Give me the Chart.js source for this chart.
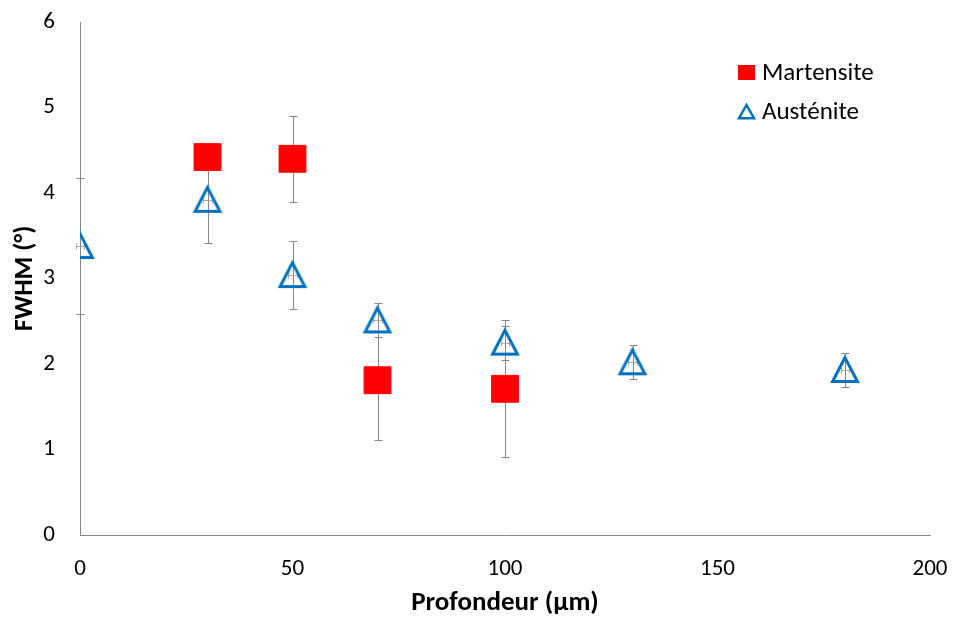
<!DOCTYPE html>
<html>
<head>
<meta charset="utf-8">
<script src="https://cdn.jsdelivr.net/npm/chart.js@4/dist/chart.umd.min.js"></script>
<style>
html,body{margin:0;padding:0;background:#fff;}
#wrap{width:954px;height:619px;}
</style>
</head>
<body>
<div id="wrap"><canvas id="c" width="954" height="619"></canvas></div>
<script>
// ---- Data ----
const martDepth = [30, 50, 70, 100];
const martFwhm  = [4.42, 4.40, 1.81, 1.71];
const martErr   = [0.1, 0.5, 0.7, 0.8];

const austDepth = [0, 30, 50, 70, 100, 130, 180];
const austFwhm  = [3.38, 3.92, 3.04, 2.51, 2.25, 2.02, 1.93];
const austErr   = [0.8, 0.5, 0.4, 0.2, 0.2, 0.2, 0.2];
const austXErr  = [1, 1, 1, 1, 1, 1, 1];

const xTicks = [0, 50, 100, 150, 200];
const yTicks = [0, 1, 2, 3, 4, 5, 6];

const FONT = "Carlito, Lato, 'Open Sans', sans-serif";

const martPts = martDepth.map((x, i) => ({x: x, y: martFwhm[i], e: martErr[i], ex: 0}));
const austPts = austDepth.map((x, i) => ({x: x, y: austFwhm[i], e: austErr[i], ex: austXErr[i]}));

function makeTriangle(w, h, lw, color) {
  const c = document.createElement('canvas');
  c.width = w + 2 * lw; c.height = h + 2 * lw;
  const g = c.getContext('2d');
  g.strokeStyle = color; g.lineWidth = lw; g.lineJoin = 'miter';
  const ox = lw, oy = lw;
  g.beginPath();
  g.moveTo(ox + w / 2, oy + lw * 0.2);
  g.lineTo(ox + w - lw * 0.2, oy + h - lw * 0.5);
  g.lineTo(ox + lw * 0.2, oy + h - lw * 0.5);
  g.closePath();
  g.stroke();
  return c;
}
const triMarker = makeTriangle(26, 26, 3, '#0070C0');
const triLegend = makeTriangle(16, 15, 2.5, '#0070C0');

const errorBars = {
  id: 'errorBars',
  beforeDatasetsDraw(chart) {
    const ctx = chart.ctx;
    const xs = chart.scales.x, ys = chart.scales.y;
    ctx.save();
    chart.data.datasets.forEach(ds => {
      ds.data.forEach(p => {
        const px = Math.round(xs.getPixelForValue(p.x)) + 0.5;
        const py = ys.getPixelForValue(p.y);
        if (p.e) {
          const top = Math.round(ys.getPixelForValue(p.y + p.e)) + 0.5;
          const bot = Math.round(ys.getPixelForValue(p.y - p.e)) + 0.5;
          ctx.strokeStyle = '#858585';
          ctx.lineWidth = 1;
          ctx.beginPath();
          ctx.moveTo(px, top); ctx.lineTo(px, bot);
          ctx.moveTo(px - 4, top); ctx.lineTo(px + 4, top);
          ctx.moveTo(px - 4, bot); ctx.lineTo(px + 4, bot);
          ctx.stroke();
        }
        if (p.ex) {
          const l = Math.round(xs.getPixelForValue(p.x - p.ex)) + 0.5;
          const r = Math.round(xs.getPixelForValue(p.x + p.ex)) + 0.5;
          const yy = Math.round(py) + 0.5;
          ctx.strokeStyle = '#a8a8a8';
          ctx.lineWidth = 1;
          ctx.beginPath();
          ctx.moveTo(l, yy); ctx.lineTo(r, yy);
          ctx.moveTo(l, yy - 3); ctx.lineTo(l, yy + 3);
          ctx.moveTo(r, yy - 3); ctx.lineTo(r, yy + 3);
          ctx.stroke();
        }
      });
    });
    ctx.restore();
  }
};

const customLegend = {
  id: 'customLegend',
  afterDraw(chart) {
    const ctx = chart.ctx;
    ctx.save();
    const items = [
      {y: 72.5, ds: chart.data.datasets[0]},
      {y: 112, ds: chart.data.datasets[1]}
    ];
    items.forEach(it => {
      const cx = 746.5;
      if (it.ds.pointStyle === 'rect') {
        ctx.fillStyle = it.ds.backgroundColor;
        ctx.fillRect(cx - 8.5, it.y - 7.5, 17, 15);
      } else {
        ctx.drawImage(triLegend, cx - triLegend.width / 2, it.y - triLegend.height / 2);
      }
      ctx.fillStyle = '#000';
      ctx.font = '25px ' + FONT;
      ctx.textBaseline = 'middle';
      ctx.textAlign = 'left';
      ctx.fillText(it.ds.label, 762, it.y + 1);
    });
    ctx.restore();
  }
};

new Chart(document.getElementById('c'), {
  type: 'scatter',
  data: {
    datasets: [
      {
        label: 'Martensite',
        data: martPts,
        pointStyle: 'rect',
        pointRadius: 19,
        pointHoverRadius: 19,
        backgroundColor: '#FF0000',
        borderColor: '#FF0000',
        borderWidth: 1
      },
      {
        label: 'Austénite',
        data: austPts,
        pointStyle: triMarker,
        pointRadius: 16,
        pointHoverRadius: 16,
        backgroundColor: 'rgba(0,0,0,0)',
        borderColor: '#0070C0',
        borderWidth: 3
      }
    ]
  },
  options: {
    responsive: false,
    animation: false,
    devicePixelRatio: 1,
    layout: {padding: {left: 0, right: 24, top: 22, bottom: 0}},
    plugins: {legend: {display: false}, tooltip: {enabled: false}},
    scales: {
      x: {
        type: 'linear',
        min: 0, max: 200,
        afterBuildTicks(s) { s.ticks = xTicks.map(v => ({value: v})); },
        afterFit(s) { s.height = 84; s.paddingLeft = 0; s.paddingRight = 0; },
        grid: {display: false, drawTicks: false},
        border: {display: true, color: '#868686', width: 1},
        ticks: {padding: 20, color: '#000', font: {family: FONT, size: 23}},
        title: {display: true, text: 'Profondeur (µm)', color: '#000',
                font: {family: FONT, size: 27, weight: 'bold'}, padding: {top: 0, bottom: 0}}
      },
      y: {
        type: 'linear',
        min: 0, max: 6,
        afterBuildTicks(s) { s.ticks = yTicks.map(v => ({value: v})); },
        afterFit(s) { s.width = 80; s.paddingTop = 0; s.paddingBottom = 0; },
        grid: {display: false, drawTicks: false},
        border: {display: true, color: '#868686', width: 1},
        ticks: {padding: 25, color: '#000', font: {family: FONT, size: 23}},
        title: {display: true, text: 'FWHM (°)', color: '#000',
                font: {family: FONT, size: 26, weight: 'bold'}, padding: {top: 10, bottom: 0}}
      }
    }
  },
  plugins: [errorBars, customLegend]
});
</script>
</body>
</html>
